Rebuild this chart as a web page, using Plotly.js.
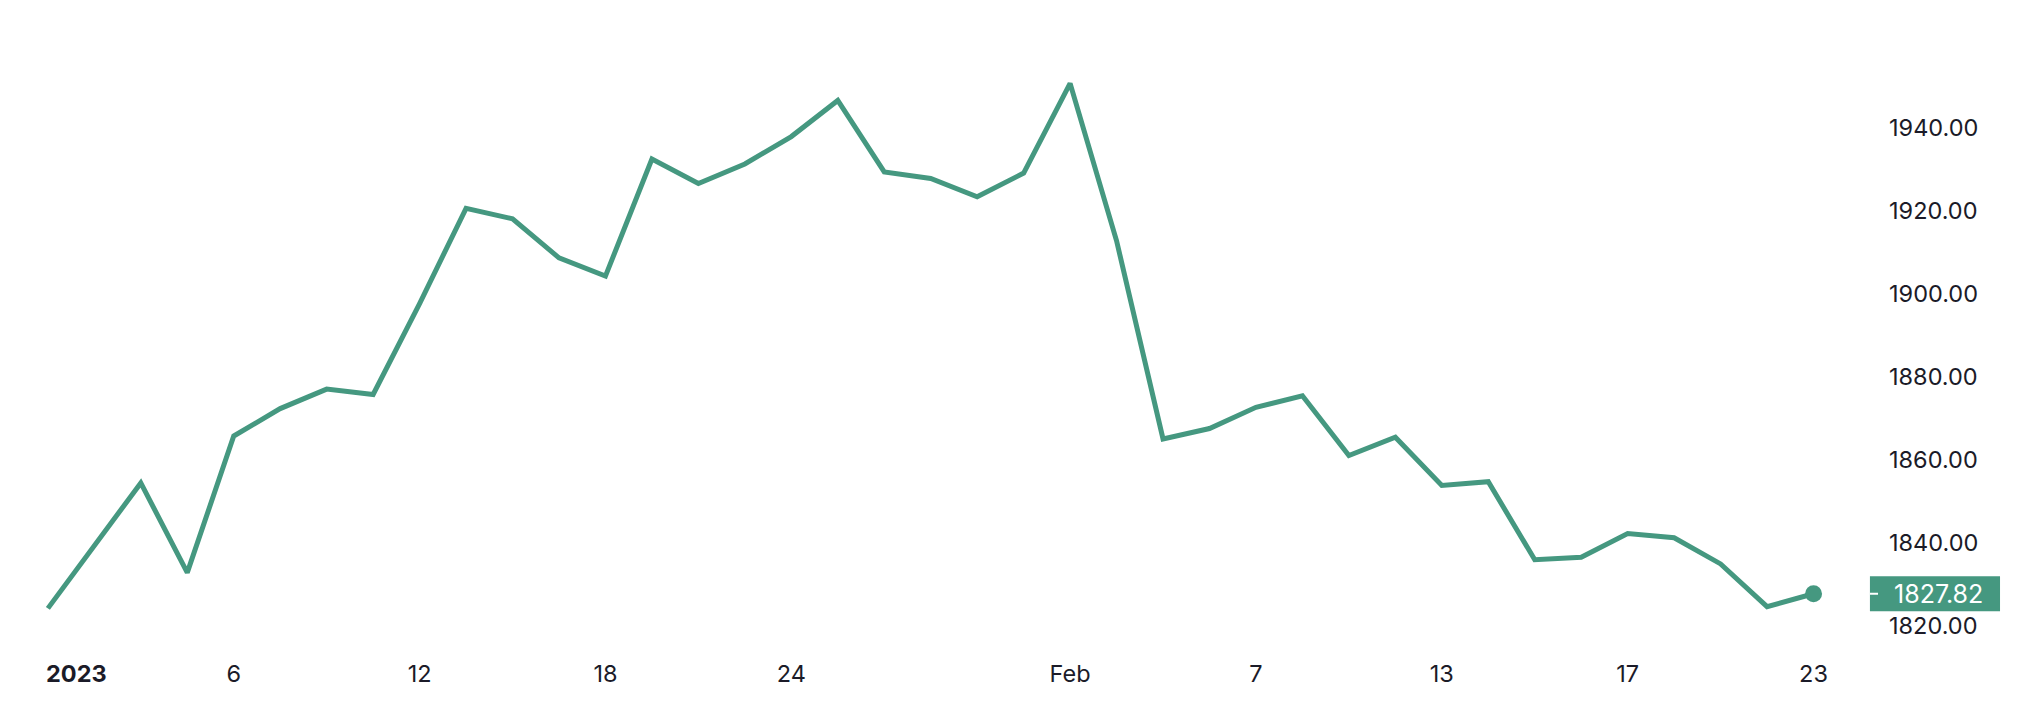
<!DOCTYPE html>
<html>
<head>
<meta charset="utf-8">
<script src="https://cdn.plot.ly/plotly-3.0.1.min.js"></script>
<style>
  html, body { margin: 0; padding: 0; background: #fff; }
  #chart { width: 2042px; height: 716px; }
</style>
</head>
<body>
<div id="chart"></div>
<script>
// trading days, Jan 2 - Feb 23 2023
var dates = ['2023-01-02','2023-01-03','2023-01-04','2023-01-05','2023-01-06',
  '2023-01-09','2023-01-10','2023-01-11','2023-01-12','2023-01-13',
  '2023-01-16','2023-01-17','2023-01-18','2023-01-19','2023-01-20',
  '2023-01-23','2023-01-24','2023-01-25','2023-01-26','2023-01-27',
  '2023-01-30','2023-01-31','2023-02-01','2023-02-02','2023-02-03',
  '2023-02-06','2023-02-07','2023-02-08','2023-02-09','2023-02-10',
  '2023-02-13','2023-02-14','2023-02-15','2023-02-16','2023-02-17',
  '2023-02-20','2023-02-21','2023-02-22','2023-02-23'];

var prices = [1824.3, 1839.5, 1854.5, 1832.9, 1865.8,
  1872.4, 1877.1, 1875.8, 1897.7, 1920.6,
  1918.1, 1908.7, 1904.3, 1932.5, 1926.6,
  1931.3, 1937.9, 1946.6, 1929.4, 1927.8,
  1923.4, 1929.1, 1950.7, 1912.8, 1865.1,
  1867.6, 1872.7, 1875.5, 1861.1, 1865.5,
  1853.9, 1854.8, 1836.0, 1836.6, 1842.3,
  1841.3, 1835.0, 1824.7, 1827.82];

var yearLabel = '2023';
var tickDates = ['2023-01-06','2023-01-12','2023-01-18','2023-01-24',
  '2023-02-01','2023-02-07','2023-02-13','2023-02-17','2023-02-23'];
var tickLabels = ['6','12','18','24','Feb','7','13','17','23'];

var yTicks = [1820, 1840, 1860, 1880, 1900, 1920, 1940];

var green = '#459880';
var ink = '#1b1b28';
var fnt = 'Inter, sans-serif';

var last = prices.length - 1;

var line = {
  type: 'scatter',
  mode: 'lines',
  x: dates,
  y: prices,
  line: { color: green, width: 5 },
  hoverinfo: 'skip'
};

var endDot = {
  type: 'scatter',
  mode: 'markers',
  x: [dates[last]],
  y: [prices[last]],
  marker: { color: green, size: 17 },
  hoverinfo: 'skip'
};

var layout = {
  width: 2042,
  height: 716,
  margin: { l: 20, r: 182, t: 24, b: 69 },
  paper_bgcolor: '#fff',
  plot_bgcolor: '#fff',
  showlegend: false,
  font: { family: fnt, size: 23.5, color: ink },
  xaxis: {
    type: 'category',
    categoryorder: 'array',
    categoryarray: dates,
    range: [-0.6, 39],
    tickmode: 'array',
    tickvals: tickDates,
    ticktext: tickLabels,
    showgrid: false,
    zeroline: false,
    showline: false,
    ticks: '',
    ticklabelstandoff: 10,
    tickfont: { family: fnt, size: 23.5, color: ink }
  },
  yaxis: {
    side: 'right',
    range: [1815, 1965],
    tickmode: 'array',
    tickvals: yTicks,
    ticktext: yTicks.map(function (v) { return v.toFixed(2); }),
    showgrid: false,
    zeroline: false,
    showline: false,
    ticks: '',
    ticklabelstandoff: 28,
    tickfont: { family: fnt, size: 23.5, color: ink }
  },
  shapes: [
    { type: 'rect', xref: 'paper', yref: 'y', layer: 'above',
      x0: 1.0054, x1: 1.0761, y0: prices[last] - 4.2, y1: prices[last] + 4.2,
      fillcolor: green, line: { width: 0 } },
    { type: 'line', xref: 'paper', yref: 'y', layer: 'above',
      x0: 1.0054, x1: 1.0098, y0: prices[last], y1: prices[last],
      line: { color: '#fff', width: 2 } }
  ],
  annotations: [
    { xref: 'paper', yref: 'y', x: 1.0427, y: prices[last],
      text: prices[last].toFixed(2), showarrow: false,
      xanchor: 'center', yanchor: 'middle',
      font: { family: fnt, size: 25, color: '#fff' } },
    { xref: 'x', yref: 'paper', x: dates[0], y: -0.043, xshift: -4,
      text: '<b>' + yearLabel + '</b>', showarrow: false,
      xanchor: 'left', yanchor: 'middle',
      font: { family: fnt, size: 23.5, color: ink } }
  ]
};

Plotly.newPlot('chart', [line, endDot], layout, { displayModeBar: false, staticPlot: true });
</script>
</body>
</html>
